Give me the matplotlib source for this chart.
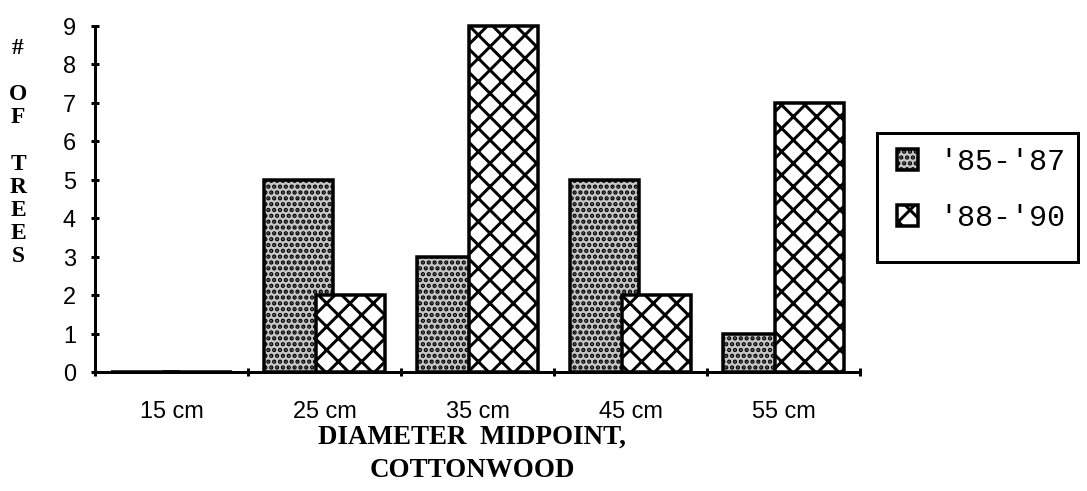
import matplotlib
matplotlib.use("Agg")
import matplotlib.pyplot as plt
from matplotlib.patches import Patch, Rectangle

# tree counts per diameter class
categories = ["15 cm", "25 cm", "35 cm", "45 cm", "55 cm"]
period_labels = ["'85-'87", "'88-'90"]
counts_85_87 = [0, 5, 3, 5, 1]
counts_88_90 = [0, 2, 9, 2, 7]

W, H = 1087, 491
DPI = 70  # low dpi keeps the cross hatch coarse


def pt(px):
    # pixel size -> points at the chosen dpi
    return px * 72 / DPI


def fx(px):
    return px / W


def fy(px):
    return 1 - px / H


plt.rcParams["hatch.linewidth"] = pt(3)
plt.rcParams["font.family"] = ["Liberation Sans", "DejaVu Sans"]

fig = plt.figure(figsize=(W / DPI, H / DPI), dpi=DPI)
ax = fig.add_axes([fx(95), fy(372), (860 - 95) / W, (372 - 26) / H])

GRAY = "#c6c6c6"
STIPPLE = ".."
x = range(len(categories))
w = 0.45
off = 0.17
ax.bar([i - off for i in x], counts_85_87, width=w, facecolor=GRAY,
       edgecolor="black", linewidth=pt(3.5), hatch=STIPPLE, zorder=2, clip_on=False)
ax.bar([i + off for i in x], counts_88_90, width=w, facecolor="white",
       edgecolor="black", linewidth=pt(3.5), hatch="x", zorder=3, clip_on=False)

ax.set_xlim(-0.5, len(categories) - 0.5)
ax.set_ylim(0, 9)
for s in ["top", "right"]:
    ax.spines[s].set_visible(False)
for s in ["left", "bottom"]:
    ax.spines[s].set_linewidth(pt(3))
    ax.spines[s].set_zorder(4)

ax.set_yticks(range(10))
ax.tick_params(axis="y", direction="inout", length=pt(8), width=pt(3), pad=pt(15),
               labelsize=pt(23.5))

# group boundaries get tick marks, names sit at group centres
ax.set_xticks([i - 0.5 for i in range(len(categories) + 1)])
ax.set_xticklabels([])
ax.set_xticks(list(x), minor=True)
ax.set_xticklabels(categories, minor=True)
ax.tick_params(axis="x", which="major", direction="inout", length=pt(8), width=pt(3))
ax.tick_params(axis="x", which="minor", length=0, pad=pt(28), labelsize=pt(23.5))

fig.text(fx(18), fy(152.5), "#\n\nO\nF\n\nT\nR\nE\nE\nS", ha="center",
         va="center", family="Liberation Serif", weight="bold", fontsize=pt(23.5),
         linespacing=1.13)
fig.text(fx(472), fy(454), "DIAMETER  MIDPOINT,\nCOTTONWOOD", ha="center",
         va="center", family="Liberation Serif", weight="bold", fontsize=pt(27),
         linespacing=1.42, multialignment="center")

handles = [
    Patch(facecolor=GRAY, edgecolor="black", linewidth=pt(3.5), hatch=STIPPLE),
    Patch(facecolor="white", edgecolor="black", linewidth=pt(3.5), hatch="x"),
]
leg = ax.legend(handles, period_labels, loc="upper left",
                bbox_to_anchor=(fx(897), fy(148)), bbox_transform=fig.transFigure,
                prop={"family": "Liberation Mono", "size": pt(30)},
                frameon=False, handlelength=0.7, handleheight=0.67,
                handletextpad=0.7, labelspacing=0.93, borderpad=0, borderaxespad=0)
fig.add_artist(Rectangle((fx(877), fy(262)), (1078 - 877) / W, (262 - 133) / H,
                         transform=fig.transFigure, facecolor="none",
                         edgecolor="black", linewidth=pt(3)))

fig.savefig("out.png", dpi=DPI)
